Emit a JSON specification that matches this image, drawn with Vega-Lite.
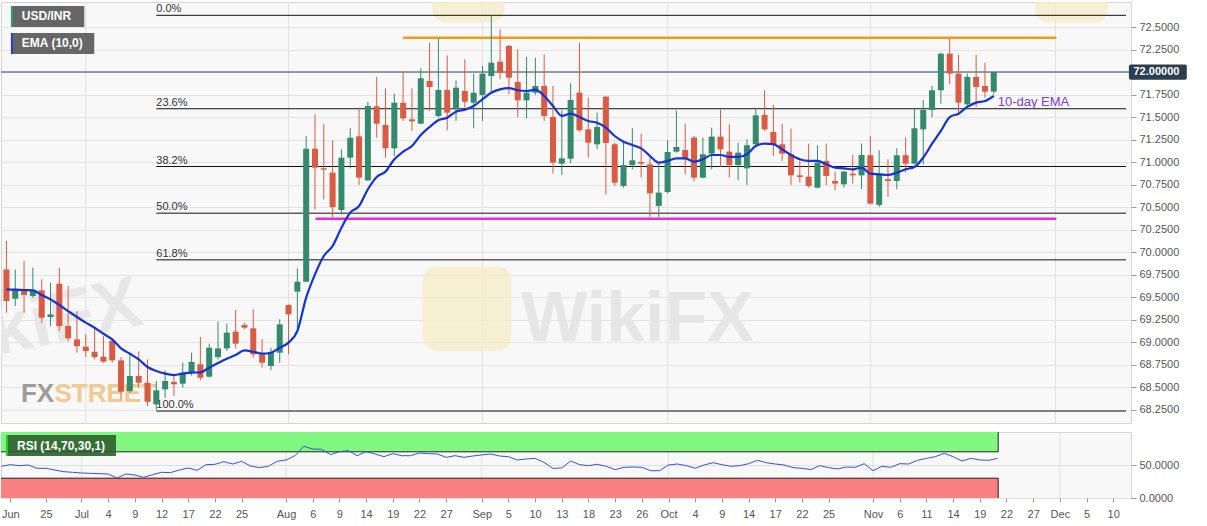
{
  "$schema": "https://vega.github.io/schema/vega-lite/v6.json",
  "padding": {"top": 1, "left": 0, "right": 0, "bottom": 0},
  "background": "white",
  "config": {
    "font": "Liberation Sans",
    "view": {"stroke": "#d4d4d4", "fill": "#f8f8f8"},
    "axis": {"labelOverlap": false}
  },
  "datasets": {
    "bars": [
      {"i": -9, "o": 69.807, "h": 70.122, "l": 69.326, "c": 69.455, "e": 69.585, "r": 48.0},
      {"i": -8, "o": 69.481, "h": 69.807, "l": 69.400, "c": 69.585, "e": 69.581, "r": 50.5},
      {"i": -7, "o": 69.566, "h": 69.900, "l": 69.326, "c": 69.522, "e": 69.577, "r": 49.0},
      {"i": -6, "o": 69.511, "h": 69.826, "l": 69.492, "c": 69.574, "e": 69.574, "r": 50.0},
      {"i": -5, "o": 69.574, "h": 69.696, "l": 69.215, "c": 69.270, "e": 69.522, "r": 45.0},
      {"i": -4, "o": 69.277, "h": 69.659, "l": 69.178, "c": 69.307, "e": 69.474, "r": 45.0},
      {"i": -3, "o": 69.648, "h": 69.826, "l": 69.122, "c": 69.178, "e": 69.411, "r": 42.4},
      {"i": -2, "o": 69.178, "h": 69.622, "l": 69.004, "c": 69.041, "e": 69.344, "r": 39.9},
      {"i": -1, "o": 69.029, "h": 69.344, "l": 68.881, "c": 68.955, "e": 69.278, "r": 38.9},
      {"i": 0, "o": 68.948, "h": 69.085, "l": 68.833, "c": 68.900, "e": 69.215, "r": 37.9},
      {"i": 1, "o": 68.892, "h": 69.159, "l": 68.807, "c": 68.833, "e": 69.159, "r": 37.4},
      {"i": 2, "o": 68.837, "h": 69.066, "l": 68.770, "c": 68.781, "e": 69.092, "r": 36.9},
      {"i": 3, "o": 69.011, "h": 69.041, "l": 68.770, "c": 68.796, "e": 69.029, "r": 36.4},
      {"i": 4, "o": 68.796, "h": 68.833, "l": 68.363, "c": 68.448, "e": 68.929, "r": 30.3},
      {"i": 5, "o": 68.455, "h": 68.855, "l": 68.437, "c": 68.622, "e": 68.870, "r": 36.4},
      {"i": 6, "o": 68.622, "h": 68.892, "l": 68.492, "c": 68.548, "e": 68.807, "r": 34.8},
      {"i": 7, "o": 68.548, "h": 68.807, "l": 68.289, "c": 68.337, "e": 68.722, "r": 31.3},
      {"i": 8, "o": 68.307, "h": 68.567, "l": 68.245, "c": 68.463, "e": 68.678, "r": 35.4},
      {"i": 9, "o": 68.474, "h": 68.685, "l": 68.381, "c": 68.567, "e": 68.648, "r": 38.9},
      {"i": 10, "o": 68.556, "h": 68.622, "l": 68.400, "c": 68.530, "e": 68.633, "r": 38.4},
      {"i": 11, "o": 68.537, "h": 68.770, "l": 68.492, "c": 68.659, "e": 68.648, "r": 42.4},
      {"i": 12, "o": 68.659, "h": 68.881, "l": 68.629, "c": 68.778, "e": 68.659, "r": 45.5},
      {"i": 13, "o": 68.752, "h": 69.055, "l": 68.574, "c": 68.603, "e": 68.663, "r": 41.9},
      {"i": 14, "o": 68.615, "h": 68.981, "l": 68.603, "c": 68.937, "e": 68.715, "r": 50.5},
      {"i": 15, "o": 68.833, "h": 69.226, "l": 68.807, "c": 68.929, "e": 68.766, "r": 51.0},
      {"i": 16, "o": 68.929, "h": 69.204, "l": 68.900, "c": 69.104, "e": 68.815, "r": 55.1},
      {"i": 17, "o": 69.115, "h": 69.355, "l": 68.929, "c": 68.981, "e": 68.855, "r": 51.5},
      {"i": 18, "o": 69.189, "h": 69.215, "l": 69.140, "c": 69.159, "e": 68.907, "r": 55.6},
      {"i": 19, "o": 69.152, "h": 69.363, "l": 68.826, "c": 68.863, "e": 68.892, "r": 48.5},
      {"i": 20, "o": 68.863, "h": 69.030, "l": 68.715, "c": 68.770, "e": 68.870, "r": 46.0},
      {"i": 21, "o": 68.733, "h": 68.937, "l": 68.685, "c": 68.881, "e": 68.881, "r": 48.0},
      {"i": 22, "o": 68.881, "h": 69.252, "l": 68.770, "c": 69.196, "e": 68.937, "r": 55.6},
      {"i": 23, "o": 69.411, "h": 69.419, "l": 68.863, "c": 69.307, "e": 68.993, "r": 57.6},
      {"i": 24, "o": 69.559, "h": 69.819, "l": 69.141, "c": 69.670, "e": 69.122, "r": 64.1},
      {"i": 25, "o": 69.670, "h": 71.289, "l": 69.670, "c": 71.148, "e": 69.493, "r": 78.3},
      {"i": 26, "o": 71.148, "h": 71.530, "l": 70.474, "c": 70.937, "e": 69.752, "r": 74.2},
      {"i": 27, "o": 70.930, "h": 71.426, "l": 70.585, "c": 70.915, "e": 69.956, "r": 73.7},
      {"i": 28, "o": 70.882, "h": 71.241, "l": 70.382, "c": 70.500, "e": 70.067, "r": 65.7},
      {"i": 29, "o": 70.467, "h": 71.141, "l": 70.419, "c": 71.048, "e": 70.270, "r": 70.2},
      {"i": 30, "o": 71.048, "h": 71.374, "l": 70.930, "c": 71.270, "e": 70.437, "r": 71.7},
      {"i": 31, "o": 71.285, "h": 71.604, "l": 70.745, "c": 70.826, "e": 70.511, "r": 64.1},
      {"i": 32, "o": 70.796, "h": 71.670, "l": 70.789, "c": 71.622, "e": 70.697, "r": 70.2},
      {"i": 33, "o": 71.619, "h": 71.945, "l": 71.270, "c": 71.426, "e": 70.834, "r": 66.7},
      {"i": 34, "o": 71.411, "h": 71.819, "l": 71.048, "c": 71.152, "e": 70.893, "r": 62.6},
      {"i": 35, "o": 71.152, "h": 71.759, "l": 71.067, "c": 71.659, "e": 71.030, "r": 67.2},
      {"i": 36, "o": 71.659, "h": 72.004, "l": 71.456, "c": 71.485, "e": 71.115, "r": 64.1},
      {"i": 37, "o": 71.474, "h": 71.819, "l": 71.344, "c": 71.452, "e": 71.178, "r": 64.1},
      {"i": 38, "o": 71.426, "h": 72.041, "l": 71.419, "c": 71.930, "e": 71.300, "r": 68.2},
      {"i": 39, "o": 71.900, "h": 72.326, "l": 71.567, "c": 71.833, "e": 71.389, "r": 67.2},
      {"i": 40, "o": 71.511, "h": 72.370, "l": 71.493, "c": 71.800, "e": 71.463, "r": 66.7},
      {"i": 41, "o": 71.800, "h": 72.185, "l": 71.352, "c": 71.548, "e": 71.493, "r": 61.6},
      {"i": 42, "o": 71.585, "h": 71.907, "l": 71.456, "c": 71.826, "e": 71.559, "r": 64.1},
      {"i": 43, "o": 71.789, "h": 72.141, "l": 71.604, "c": 71.670, "e": 71.582, "r": 61.6},
      {"i": 44, "o": 71.659, "h": 71.982, "l": 71.374, "c": 71.770, "e": 71.622, "r": 63.6},
      {"i": 45, "o": 71.745, "h": 72.067, "l": 71.456, "c": 71.982, "e": 71.697, "r": 65.2},
      {"i": 46, "o": 71.956, "h": 72.625, "l": 71.770, "c": 72.104, "e": 71.770, "r": 66.7},
      {"i": 47, "o": 72.115, "h": 72.474, "l": 71.919, "c": 71.993, "e": 71.807, "r": 63.6},
      {"i": 48, "o": 72.289, "h": 72.300, "l": 71.756, "c": 71.937, "e": 71.820, "r": 62.6},
      {"i": 49, "o": 71.889, "h": 72.252, "l": 71.500, "c": 71.685, "e": 71.797, "r": 57.6},
      {"i": 50, "o": 71.685, "h": 72.167, "l": 71.485, "c": 71.770, "e": 71.789, "r": 59.1},
      {"i": 51, "o": 71.770, "h": 72.159, "l": 71.745, "c": 71.845, "e": 71.804, "r": 60.1},
      {"i": 52, "o": 71.845, "h": 72.197, "l": 71.456, "c": 71.512, "e": 71.734, "r": 54.0},
      {"i": 53, "o": 71.500, "h": 71.845, "l": 70.871, "c": 70.993, "e": 71.623, "r": 44.9},
      {"i": 54, "o": 70.982, "h": 71.575, "l": 70.856, "c": 71.041, "e": 71.512, "r": 45.5},
      {"i": 55, "o": 71.037, "h": 71.875, "l": 70.986, "c": 71.689, "e": 71.537, "r": 56.1},
      {"i": 56, "o": 71.771, "h": 72.326, "l": 71.337, "c": 71.352, "e": 71.500, "r": 50.5},
      {"i": 57, "o": 71.363, "h": 71.715, "l": 71.048, "c": 71.215, "e": 71.456, "r": 49.0},
      {"i": 58, "o": 71.197, "h": 71.548, "l": 71.141, "c": 71.389, "e": 71.437, "r": 51.0},
      {"i": 59, "o": 71.726, "h": 71.734, "l": 70.641, "c": 71.212, "e": 71.382, "r": 48.0},
      {"i": 60, "o": 71.197, "h": 71.215, "l": 70.734, "c": 70.771, "e": 71.289, "r": 43.0},
      {"i": 61, "o": 70.734, "h": 71.215, "l": 70.715, "c": 70.967, "e": 71.226, "r": 46.5},
      {"i": 62, "o": 70.967, "h": 71.374, "l": 70.919, "c": 71.019, "e": 71.189, "r": 47.0},
      {"i": 63, "o": 71.000, "h": 71.315, "l": 70.826, "c": 70.982, "e": 71.152, "r": 46.5},
      {"i": 64, "o": 70.974, "h": 71.059, "l": 70.389, "c": 70.652, "e": 71.067, "r": 41.4},
      {"i": 65, "o": 70.512, "h": 70.982, "l": 70.389, "c": 70.660, "e": 70.993, "r": 41.4},
      {"i": 66, "o": 70.667, "h": 71.241, "l": 70.649, "c": 71.111, "e": 71.012, "r": 50.0},
      {"i": 67, "o": 71.115, "h": 71.575, "l": 71.104, "c": 71.167, "e": 71.041, "r": 51.5},
      {"i": 68, "o": 71.134, "h": 71.426, "l": 70.863, "c": 71.041, "e": 71.041, "r": 49.0},
      {"i": 69, "o": 71.271, "h": 71.290, "l": 70.782, "c": 70.826, "e": 71.004, "r": 45.0},
      {"i": 70, "o": 70.826, "h": 71.271, "l": 70.819, "c": 71.086, "e": 71.030, "r": 50.0},
      {"i": 71, "o": 71.093, "h": 71.382, "l": 70.919, "c": 71.282, "e": 71.078, "r": 53.5},
      {"i": 72, "o": 71.282, "h": 71.586, "l": 70.945, "c": 71.141, "e": 71.078, "r": 50.5},
      {"i": 73, "o": 71.115, "h": 71.419, "l": 70.826, "c": 70.967, "e": 71.056, "r": 48.0},
      {"i": 74, "o": 70.967, "h": 71.215, "l": 70.797, "c": 71.104, "e": 71.056, "r": 49.0},
      {"i": 75, "o": 70.930, "h": 71.252, "l": 70.745, "c": 71.186, "e": 71.086, "r": 52.0},
      {"i": 76, "o": 71.197, "h": 71.604, "l": 71.178, "c": 71.519, "e": 71.178, "r": 57.1},
      {"i": 77, "o": 71.523, "h": 71.797, "l": 71.345, "c": 71.363, "e": 71.204, "r": 53.5},
      {"i": 78, "o": 71.334, "h": 71.634, "l": 71.067, "c": 71.197, "e": 71.197, "r": 51.5},
      {"i": 79, "o": 71.197, "h": 71.426, "l": 71.012, "c": 71.093, "e": 71.141, "r": 50.0},
      {"i": 80, "o": 71.086, "h": 71.371, "l": 70.745, "c": 70.852, "e": 71.078, "r": 46.0},
      {"i": 81, "o": 70.852, "h": 71.019, "l": 70.771, "c": 70.834, "e": 71.030, "r": 45.0},
      {"i": 82, "o": 70.837, "h": 71.204, "l": 70.715, "c": 70.734, "e": 71.012, "r": 43.0},
      {"i": 83, "o": 70.715, "h": 71.186, "l": 70.708, "c": 70.993, "e": 71.012, "r": 49.0},
      {"i": 84, "o": 71.012, "h": 71.204, "l": 70.745, "c": 70.845, "e": 70.975, "r": 46.0},
      {"i": 85, "o": 70.789, "h": 70.893, "l": 70.686, "c": 70.760, "e": 70.937, "r": 44.0},
      {"i": 86, "o": 70.752, "h": 70.900, "l": 70.715, "c": 70.893, "e": 70.930, "r": 47.0},
      {"i": 87, "o": 70.871, "h": 71.078, "l": 70.760, "c": 70.852, "e": 70.919, "r": 46.5},
      {"i": 88, "o": 70.852, "h": 71.204, "l": 70.697, "c": 71.078, "e": 70.937, "r": 52.0},
      {"i": 89, "o": 71.075, "h": 71.289, "l": 70.530, "c": 70.537, "e": 70.871, "r": 41.4},
      {"i": 90, "o": 70.523, "h": 71.130, "l": 70.500, "c": 70.871, "e": 70.863, "r": 48.0},
      {"i": 91, "o": 70.808, "h": 71.030, "l": 70.612, "c": 70.789, "e": 70.856, "r": 46.5},
      {"i": 92, "o": 70.789, "h": 71.152, "l": 70.697, "c": 71.075, "e": 70.882, "r": 52.0},
      {"i": 93, "o": 71.075, "h": 71.271, "l": 70.882, "c": 70.982, "e": 70.919, "r": 51.5},
      {"i": 94, "o": 70.982, "h": 71.597, "l": 70.975, "c": 71.375, "e": 70.945, "r": 57.1},
      {"i": 95, "o": 71.363, "h": 71.686, "l": 70.975, "c": 71.578, "e": 71.049, "r": 60.1},
      {"i": 96, "o": 71.578, "h": 71.845, "l": 71.500, "c": 71.797, "e": 71.204, "r": 62.6},
      {"i": 97, "o": 71.797, "h": 72.215, "l": 71.649, "c": 72.204, "e": 71.345, "r": 67.7},
      {"i": 98, "o": 72.204, "h": 72.374, "l": 71.863, "c": 71.982, "e": 71.500, "r": 62.6},
      {"i": 99, "o": 71.982, "h": 72.189, "l": 71.549, "c": 71.660, "e": 71.537, "r": 56.1},
      {"i": 100, "o": 71.641, "h": 71.982, "l": 71.586, "c": 71.945, "e": 71.612, "r": 60.1},
      {"i": 101, "o": 71.945, "h": 72.189, "l": 71.612, "c": 71.834, "e": 71.660, "r": 57.6},
      {"i": 102, "o": 71.845, "h": 72.104, "l": 71.715, "c": 71.782, "e": 71.678, "r": 57.1},
      {"i": 103, "o": 71.782, "h": 72.000, "l": 71.752, "c": 72.000, "e": 71.734, "r": 60.1}
    ],
    "months": [{"i": 0}, {"i": 23}, {"i": 45}, {"i": 66}, {"i": 89}, {"i": 110}],
    "fib": [
      {"lvl": "0.0%", "p": 72.63},
      {"lvl": "23.6%", "p": 71.592},
      {"lvl": "38.2%", "p": 70.95},
      {"lvl": "50.0%", "p": 70.4315},
      {"lvl": "61.8%", "p": 69.913},
      {"lvl": "100.0%", "p": 68.233}
    ]
  },
  "spacing": 7,
  "vconcat": [
    {
      "width": 1130,
      "height": 421,
      "layer": [
        {
          "data": {"name": "months"},
          "mark": {"type": "rule", "color": "#e2e2e2"},
          "encoding": {
            "x": {"field": "i", "type": "quantitative", "scale": {"domain": [-9.05, 118], "nice": false, "zero": false}, "axis": null}
          }
        },
        {
          "data": {"values": [{}]},
          "mark": {"type": "text", "fontSize": 72, "fontWeight": "bold", "color": "#e7e7e7", "align": "right", "baseline": "alphabetic", "angle": -12, "clip": true},
          "encoding": {
            "x": {"datum": 6.7, "type": "quantitative", "axis": null},
            "y": {"datum": 69.2, "type": "quantitative"},
            "text": {"value": "WikiFX"}
          }
        },
        {
          "data": {"values": [{}]},
          "mark": {"type": "rect", "color": "#f7ecc8", "opacity": 0.75, "cornerRadius": 14, "clip": true},
          "encoding": {
            "x": {"datum": 38.2, "type": "quantitative", "axis": null},
            "x2": {"datum": 48.3},
            "y": {"datum": 69.84, "type": "quantitative"},
            "y2": {"datum": 68.9}
          }
        },
        {
          "data": {"values": [{}]},
          "mark": {"type": "rect", "color": "#f7ecc8", "opacity": 0.75, "cornerRadius": 14, "clip": true},
          "encoding": {
            "x": {"datum": 39.3, "type": "quantitative", "axis": null},
            "x2": {"datum": 47.5},
            "y": {"datum": 73.2, "type": "quantitative"},
            "y2": {"datum": 72.55}
          }
        },
        {
          "data": {"values": [{}]},
          "mark": {"type": "rect", "color": "#f7ecc8", "opacity": 0.75, "cornerRadius": 14, "clip": true},
          "encoding": {
            "x": {"datum": 107.7, "type": "quantitative", "axis": null},
            "x2": {"datum": 116},
            "y": {"datum": 73.2, "type": "quantitative"},
            "y2": {"datum": 72.55}
          }
        },
        {
          "data": {"values": [{}]},
          "mark": {"type": "text", "fontSize": 70, "fontWeight": "bold", "color": "#e6e6e6", "align": "left", "baseline": "alphabetic"},
          "encoding": {
            "x": {"datum": 49.4, "type": "quantitative", "axis": null},
            "y": {"datum": 69.01, "type": "quantitative"},
            "text": {"value": "WikiFX"}
          }
        },
        {
          "data": {"values": [{}]},
          "mark": {"type": "text", "fontSize": 26, "fontWeight": "bold", "color": "#9c9c9c", "align": "left", "baseline": "alphabetic"},
          "encoding": {
            "x": {"datum": -7.36, "type": "quantitative", "axis": null},
            "y": {"datum": 68.33, "type": "quantitative"},
            "text": {"value": "FX"}
          }
        },
        {
          "data": {"values": [{}]},
          "mark": {"type": "text", "fontSize": 26, "fontWeight": "bold", "color": "#f2c98f", "align": "left", "baseline": "alphabetic"},
          "encoding": {
            "x": {"datum": -3.55, "type": "quantitative", "axis": null},
            "y": {"datum": 68.33, "type": "quantitative"},
            "text": {"value": "STREET"}
          }
        },
        {
          "data": {"name": "fib"},
          "mark": {"type": "rule", "color": "#111111", "strokeWidth": 1},
          "encoding": {
            "x": {"datum": 8, "type": "quantitative", "axis": null},
            "x2": {"datum": 118},
            "y": {"field": "p", "type": "quantitative"}
          }
        },
        {
          "data": {"name": "fib"},
          "mark": {"type": "text", "align": "left", "baseline": "bottom", "dy": -1, "fontSize": 11, "color": "#333333"},
          "encoding": {
            "x": {"datum": 8, "type": "quantitative", "axis": null},
            "y": {"field": "p", "type": "quantitative"},
            "text": {"field": "lvl"}
          }
        },
        {
          "data": {"values": [{}]},
          "mark": {"type": "rule", "color": "#f39c12", "strokeWidth": 2.5},
          "encoding": {
            "x": {"datum": 36, "type": "quantitative", "axis": null},
            "x2": {"datum": 110.1},
            "y": {"datum": 72.38, "type": "quantitative"}
          }
        },
        {
          "data": {"values": [{}]},
          "mark": {"type": "rule", "color": "#e02ee0", "strokeWidth": 2.5},
          "encoding": {
            "x": {"datum": 26.06, "type": "quantitative", "axis": null},
            "x2": {"datum": 110.1},
            "y": {"datum": 70.37, "type": "quantitative"}
          }
        },
        {
          "data": {"values": [{}]},
          "mark": {"type": "rule", "color": "#2c3e50", "strokeWidth": 1},
          "encoding": {
            "y": {"datum": 72.0, "type": "quantitative"}
          }
        },
        {
          "data": {"name": "bars"},
          "mark": {"type": "rule", "strokeWidth": 1, "clip": true},
          "encoding": {
            "x": {"field": "i", "type": "quantitative", "axis": null},
            "y": {
              "field": "l",
              "type": "quantitative",
              "scale": {"domain": [68.1, 72.778], "nice": false, "zero": false},
              "axis": {
                "orient": "right",
                "title": null,
                "values": [68.25, 68.5, 68.75, 69, 69.25, 69.5, 69.75, 70, 70.25, 70.5, 70.75, 71, 71.25, 71.5, 71.75, 72.25, 72.5],
                "tickCount": 200,
                "format": ".4f",
                "grid": true,
                "gridColor": "#e4e4e4",
                "domain": false,
                "tickColor": "#999999",
                "tickSize": 5,
                "labelPadding": 3,
                "labelColor": "#555555",
                "labelFontSize": 11,
                "labelOverlap": false
              }
            },
            "y2": {"field": "h"},
            "color": {"condition": {"test": "datum.c >= datum.o", "value": "#358a6e"}, "value": "#d95b43"}
          }
        },
        {
          "data": {"name": "bars"},
          "mark": {"type": "bar", "size": 6, "clip": true},
          "encoding": {
            "x": {"field": "i", "type": "quantitative", "axis": null},
            "y": {"field": "o", "type": "quantitative"},
            "y2": {"field": "c"},
            "color": {"condition": {"test": "datum.c >= datum.o", "value": "#358a6e"}, "value": "#d95b43"}
          }
        },
        {
          "data": {"name": "bars"},
          "mark": {"type": "line", "color": "#1432d8", "strokeWidth": 2.2, "interpolate": "monotone", "clip": true},
          "encoding": {
            "x": {"field": "i", "type": "quantitative", "axis": null},
            "y": {"field": "e", "type": "quantitative"}
          }
        },
        {
          "data": {"values": [{}]},
          "mark": {"type": "text", "align": "left", "baseline": "middle", "fontSize": 13, "color": "#7a3fd1"},
          "encoding": {
            "x": {"datum": 103.45, "type": "quantitative", "axis": null},
            "y": {"datum": 71.672, "type": "quantitative"},
            "text": {"value": "10-day EMA"}
          }
        },
        {
          "data": {"values": [{}]},
          "mark": {"type": "rect", "color": "#2c3e50", "cornerRadius": 2},
          "encoding": {
            "x": {"datum": 118.33, "type": "quantitative", "axis": null},
            "x2": {"datum": 124.9},
            "y": {"datum": 72.083, "type": "quantitative"},
            "y2": {"datum": 71.913}
          }
        },
        {
          "data": {"values": [{}]},
          "mark": {"type": "text", "align": "left", "baseline": "middle", "fontSize": 11, "fontWeight": "bold", "color": "white"},
          "encoding": {
            "x": {"datum": 118.85, "type": "quantitative", "axis": null},
            "y": {"datum": 72.0, "type": "quantitative"},
            "text": {"value": "72.00000"}
          }
        },
        {
          "data": {"values": [{}]},
          "mark": {"type": "rect", "color": "#666666"},
          "encoding": {
            "x": {"datum": -8.49, "type": "quantitative", "axis": null},
            "x2": {"datum": -0.17},
            "y": {"datum": 72.733, "type": "quantitative"},
            "y2": {"datum": 72.5}
          }
        },
        {
          "data": {"values": [{}]},
          "mark": {"type": "rect", "color": "#2e9e78"},
          "encoding": {
            "x": {"datum": -8.49, "type": "quantitative", "axis": null},
            "x2": {"datum": -8.27},
            "y": {"datum": 72.733, "type": "quantitative"},
            "y2": {"datum": 72.5}
          }
        },
        {
          "data": {"values": [{}]},
          "mark": {"type": "text", "align": "left", "baseline": "middle", "fontSize": 12, "fontWeight": "bold", "color": "white"},
          "encoding": {
            "x": {"datum": -7.25, "type": "quantitative", "axis": null},
            "y": {"datum": 72.617, "type": "quantitative"},
            "text": {"value": "USD/INR"}
          }
        },
        {
          "data": {"values": [{}]},
          "mark": {"type": "rect", "color": "#666666"},
          "encoding": {
            "x": {"datum": -8.49, "type": "quantitative", "axis": null},
            "x2": {"datum": 0.96},
            "y": {"datum": 72.433, "type": "quantitative"},
            "y2": {"datum": 72.2}
          }
        },
        {
          "data": {"values": [{}]},
          "mark": {"type": "rect", "color": "#1f3fd6"},
          "encoding": {
            "x": {"datum": -8.49, "type": "quantitative", "axis": null},
            "x2": {"datum": -8.27},
            "y": {"datum": 72.433, "type": "quantitative"},
            "y2": {"datum": 72.2}
          }
        },
        {
          "data": {"values": [{}]},
          "mark": {"type": "text", "align": "left", "baseline": "middle", "fontSize": 12, "fontWeight": "bold", "color": "white"},
          "encoding": {
            "x": {"datum": -7.25, "type": "quantitative", "axis": null},
            "y": {"datum": 72.317, "type": "quantitative"},
            "text": {"value": "EMA (10,0)"}
          }
        }
      ]
    },
    {
      "width": 1130,
      "height": 66,
      "layer": [
        {
          "data": {"name": "months"},
          "mark": {"type": "rule", "color": "#e2e2e2"},
          "encoding": {
            "x": {"field": "i", "type": "quantitative", "scale": {"domain": [-9.05, 118], "nice": false, "zero": false}}
          }
        },
        {
          "data": {"values": [{}]},
          "mark": {"type": "rect", "color": "#80f880", "clip": true},
          "encoding": {
            "x": {"datum": -10, "type": "quantitative"},
            "x2": {"datum": 103.07},
            "y": {"datum": 70, "type": "quantitative"},
            "y2": {"datum": 100}
          }
        },
        {
          "data": {"values": [{}]},
          "mark": {"type": "rect", "color": "#f88080", "clip": true},
          "encoding": {
            "x": {"datum": -10, "type": "quantitative"},
            "x2": {"datum": 103.07},
            "y": {"datum": 0, "type": "quantitative"},
            "y2": {"datum": 30}
          }
        },
        {
          "data": {"values": [{"v": 70}, {"v": 30}]},
          "mark": {"type": "rule", "color": "#222222", "strokeWidth": 1, "clip": true},
          "encoding": {
            "x": {"datum": -10, "type": "quantitative"},
            "x2": {"datum": 103.07},
            "y": {"field": "v", "type": "quantitative"}
          }
        },
        {
          "data": {"values": [{"a": 70, "b": 100}, {"a": 0, "b": 30}]},
          "mark": {"type": "rule", "color": "#222222", "strokeWidth": 1},
          "encoding": {
            "x": {"datum": 103.07, "type": "quantitative"},
            "y": {"field": "a", "type": "quantitative"},
            "y2": {"field": "b"}
          }
        },
        {
          "data": {"name": "bars"},
          "mark": {"type": "line", "color": "#3553d9", "strokeWidth": 1, "clip": true},
          "encoding": {
            "x": {
              "field": "i",
              "type": "quantitative",
              "axis": {
                "title": null,
                "values": [-8, -4, 0, 3, 6, 9, 12, 15, 18, 23, 26, 29, 32, 35, 38, 41, 45, 48, 51, 54, 57, 60, 63, 66, 69, 72, 75, 78, 81, 84, 89, 92, 95, 98, 101, 104, 107, 110, 113, 116],
                "tickCount": 200,
                "labelExpr": "['Jun','25','Jul','4','9','12','17','22','25','Aug','6','9','14','19','22','27','Sep','5','10','13','18','23','26','Oct','4','9','14','17','22','25','Nov','6','11','14','19','22','27','Dec','5','10'][indexof([-8,-4,0,3,6,9,12,15,18,23,26,29,32,35,38,41,45,48,51,54,57,60,63,66,69,72,75,78,81,84,89,92,95,98,101,104,107,110,113,116], datum.value)]",
                "grid": false,
                "domain": false,
                "tickColor": "#999999",
                "tickSize": 4,
                "labelPadding": 6,
                "labelColor": "#555555",
                "labelFontSize": 11,
                "labelFlush": false,
                "labelOverlap": false
              }
            },
            "y": {
              "field": "r",
              "type": "quantitative",
              "scale": {"domain": [0, 100], "nice": false},
              "axis": {
                "orient": "right",
                "title": null,
                "values": [0, 50],
                "tickCount": 20,
                "format": ".4f",
                "grid": true,
                "gridColor": "#e0e0e0",
                "domain": false,
                "tickColor": "#999999",
                "tickSize": 5,
                "labelPadding": 3,
                "labelColor": "#555555",
                "labelFontSize": 11
              }
            }
          }
        },
        {
          "data": {"values": [{}]},
          "mark": {"type": "rect", "color": "#2f5e2f", "opacity": 0.9},
          "encoding": {
            "x": {"datum": -8.49, "type": "quantitative"},
            "x2": {"datum": 3.88},
            "y": {"datum": 95.5, "type": "quantitative"},
            "y2": {"datum": 63.6}
          }
        },
        {
          "data": {"values": [{}]},
          "mark": {"type": "rect", "color": "#28d028"},
          "encoding": {
            "x": {"datum": -8.49, "type": "quantitative"},
            "x2": {"datum": -8.27},
            "y": {"datum": 95.5, "type": "quantitative"},
            "y2": {"datum": 63.6}
          }
        },
        {
          "data": {"values": [{}]},
          "mark": {"type": "text", "align": "left", "baseline": "middle", "fontSize": 12, "fontWeight": "bold", "color": "white"},
          "encoding": {
            "x": {"datum": -7.25, "type": "quantitative"},
            "y": {"datum": 79.5, "type": "quantitative"},
            "text": {"value": "RSI (14,70,30,1)"}
          }
        }
      ]
    }
  ]
}
